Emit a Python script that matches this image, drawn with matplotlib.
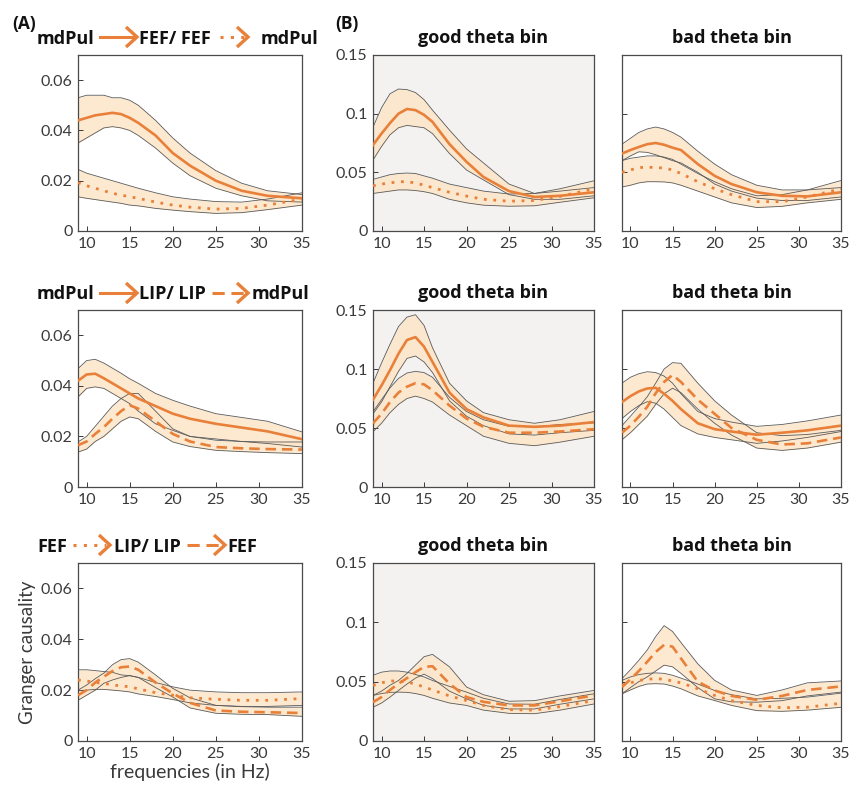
import matplotlib
matplotlib.use("Agg")
import matplotlib.pyplot as plt
from matplotlib.lines import Line2D
from matplotlib.ticker import FuncFormatter

plt.rcParams['font.family'] = ['Lato', 'DejaVu Sans']
BOLDFONT = ['Open Sans', 'DejaVu Sans']

W, H = 860, 791
ORANGE = '#e8803a'
BAND = '#fde6c8'
EDGE = '#5a5a5a'
GRAYBG = '#f3f2f1'
TICKC = '#3a3a3a'

freqs = [9, 10, 11, 12, 13, 14, 15, 16, 18, 20, 22, 25, 28, 31, 35]

# (A) row 1: mdPul -> FEF (solid), FEF -> mdPul (dotted)
a1_sol    = [.044, .045, .046, .0465, .047, .0465, .045, .043, .038, .031, .026, .020, .016, .014, .013]
a1_sol_hi = [.053, .054, .054, .054, .053, .053, .052, .050, .044, .037, .031, .024, .019, .016, .0145]
a1_sol_lo = [.035, .037, .039, .041, .0415, .041, .040, .038, .033, .027, .022, .017, .014, .012, .0115]
a1_dot    = [.0192, .018, .017, .016, .015, .0143, .0136, .013, .0115, .0103, .0095, .0087, .009, .0103, .0127]
a1_dot_hi = [.0245, .023, .022, .021, .020, .019, .018, .017, .0152, .0136, .0127, .0117, .0115, .0127, .0152]
a1_dot_lo = [.0136, .013, .0125, .012, .0115, .011, .0103, .010, .009, .0083, .0077, .007, .0073, .0085, .0103]

# (A) row 2: mdPul -> LIP (solid), LIP -> mdPul (dashed)
a2_sol    = [.042, .0445, .0448, .043, .041, .039, .037, .035, .032, .029, .027, .025, .0235, .022, .0189]
a2_sol_hi = [.0468, .050, .0505, .049, .047, .045, .0428, .041, .037, .0343, .032, .029, .0275, .026, .0218]
a2_sol_lo = [.0356, .039, .0396, .039, .037, .035, .033, .030, .025, .0224, .020, .019, .018, .0172, .0158]
a2_dash    = [.0165, .018, .021, .0237, .027, .030, .0323, .031, .026, .021, .018, .0158, .0153, .015, .0148]
a2_dash_hi = [.0178, .020, .024, .028, .032, .035, .037, .037, .030, .023, .020, .0185, .018, .0178, .0178]
a2_dash_lo = [.0138, .015, .018, .020, .023, .026, .0277, .027, .022, .0178, .016, .0145, .014, .0136, .0132]

# (A) row 3: FEF -> LIP (dotted), LIP -> FEF (dashed)
a3_dot    = [.024, .0236, .023, .0227, .022, .0217, .0213, .0205, .019, .018, .017, .0164, .016, .016, .0167]
a3_dot_hi = [.028, .028, .0277, .0273, .027, .026, .0257, .025, .023, .0213, .020, .0193, .019, .019, .0193]
a3_dot_lo = [.0198, .020, .0203, .0203, .020, .0197, .0193, .0185, .0175, .0163, .015, .014, .0136, .0136, .014]
a3_dash    = [.018, .020, .023, .0253, .0275, .029, .0293, .028, .023, .0187, .015, .012, .0115, .0113, .011]
a3_dash_hi = [.020, .022, .0245, .0267, .030, .032, .0324, .031, .026, .0207, .017, .014, .0135, .0133, .0133]
a3_dash_lo = [.016, .018, .020, .0227, .024, .025, .0257, .025, .021, .0173, .013, .0109, .0105, .0104, .0097]

# (B) row 1, good theta bin
b1g_sol    = [.0733, .083, .092, .100, .104, .103, .099, .093, .074, .059, .046, .034, .029, .030, .033]
b1g_sol_hi = [.0886, .105, .117, .121, .1205, .118, .112, .103, .086, .070, .058, .040, .032, .034, .037]
b1g_sol_lo = [.0605, .072, .082, .088, .090, .089, .088, .083, .066, .052, .0435, .031, .027, .027, .030]
b1g_dot    = [.0385, .040, .041, .042, .042, .041, .039, .037, .033, .0298, .027, .0254, .026, .0295, .036]
b1g_dot_hi = [.044, .046, .048, .049, .0494, .049, .047, .045, .040, .037, .034, .0315, .032, .036, .0428]
b1g_dot_lo = [.032, .033, .034, .035, .035, .0345, .0335, .032, .027, .024, .022, .0211, .0215, .0245, .0283]

# (B) row 1, bad theta bin
b1b_sol    = [.066, .069, .0716, .074, .075, .0735, .071, .069, .057, .047, .040, .033, .030, .0295, .033]
b1b_sol_hi = [.074, .079, .084, .087, .0886, .087, .084, .080, .068, .057, .048, .039, .035, .035, .037]
b1b_sol_lo = [.060, .064, .0675, .067, .065, .0625, .060, .058, .050, .040, .034, .028, .026, .026, .029]
b1b_dot    = [.050, .052, .054, .0545, .054, .0537, .052, .049, .042, .036, .031, .025, .025, .029, .036]
b1b_dot_hi = [.060, .062, .063, .064, .064, .063, .061, .057, .049, .042, .036, .030, .031, .035, .043]
b1b_dot_lo = [.0375, .039, .041, .042, .042, .0418, .041, .039, .034, .029, .024, .020, .021, .024, .027]

# (B) row 2, good theta bin
b2g_sol    = [.074, .086, .099, .113, .1246, .127, .119, .106, .080, .066, .059, .052, .051, .052, .055]
b2g_sol_hi = [.088, .105, .121, .136, .144, .146, .137, .118, .088, .073, .063, .057, .054, .057, .064]
b2g_sol_lo = [.062, .072, .085, .098, .109, .111, .106, .097, .073, .060, .052, .045, .044, .046, .048]
b2g_dash    = [.054, .062, .072, .080, .085, .088, .087, .082, .069, .058, .051, .046, .046, .047, .049]
b2g_dash_hi = [.0638, .074, .084, .092, .0966, .098, .097, .093, .076, .064, .057, .0514, .051, .053, .0543]
b2g_dash_lo = [.0469, .054, .063, .070, .075, .077, .075, .072, .061, .052, .043, .037, .035, .038, .043]

# (B) row 2, bad theta bin
b2b_sol    = [.072, .077, .081, .0835, .084, .079, .073, .066, .054, .049, .047, .0443, .046, .048, .052]
b2b_sol_hi = [.088, .093, .096, .0977, .097, .094, .088, .079, .064, .058, .055, .0514, .053, .056, .061]
b2b_sol_lo = [.058, .064, .069, .0723, .071, .066, .059, .052, .045, .042, .040, .037, .039, .042, .047]
b2b_dash    = [.046, .052, .0596, .068, .0795, .089, .095, .089, .074, .062, .050, .040, .036, .037, .042]
b2b_dash_hi = [.052, .060, .068, .0765, .088, .100, .1054, .1048, .088, .073, .061, .046, .0435, .0445, .048]
b2b_dash_lo = [.040, .046, .053, .060, .070, .079, .0837, .080, .066, .054, .044, .033, .031, .033, .038]

# (B) row 3, good theta bin
b3g_dash    = [.0327, .037, .043, .0483, .053, .058, .0625, .063, .0483, .037, .033, .030, .030, .0335, .0384]
b3g_dash_hi = [.0384, .042, .047, .051, .057, .064, .071, .073, .0625, .0455, .039, .0335, .034, .038, .0426]
b3g_dash_lo = [.0284, .032, .037, .0426, .048, .053, .0563, .0526, .042, .0355, .030, .027, .027, .031, .0355]
b3g_dot    = [.0469, .049, .0506, .0505, .0497, .048, .0455, .043, .038, .0341, .030, .0264, .026, .029, .0341]
b3g_dot_hi = [.0554, .058, .059, .059, .058, .056, .054, .051, .046, .0412, .036, .0312, .031, .035, .0398]
b3g_dot_lo = [.0384, .040, .041, .0412, .041, .040, .0384, .036, .032, .030, .026, .0233, .023, .026, .0312]

# (B) row 3, bad theta bin
b3b_dash    = [.0455, .052, .059, .0668, .075, .081, .0795, .0696, .050, .0426, .038, .0347, .038, .043, .046]
b3b_dash_hi = [.0526, .060, .068, .0767, .088, .0972, .0923, .083, .065, .0511, .043, .0384, .043, .049, .0506]
b3b_dash_lo = [.0398, .045, .050, .054, .059, .0639, .0625, .057, .045, .0355, .033, .0327, .034, .038, .0412]
b3b_dot    = [.0469, .049, .051, .052, .0526, .052, .0506, .049, .044, .0384, .034, .030, .028, .0285, .0318]
b3b_dot_hi = [.0511, .054, .056, .057, .0574, .057, .0554, .053, .048, .0426, .039, .0355, .036, .037, .0403]
b3b_dot_lo = [.0398, .043, .046, .048, .0483, .048, .0463, .044, .038, .0341, .030, .0256, .025, .026, .0284]

xticks = [10, 15, 20, 25, 30, 35]
yticks_a = [0, 0.02, 0.04, 0.06]
yticks_b = [0, 0.05, 0.1, 0.15]

STYLES = {
    'solid': dict(linestyle='-', lw=1.9),
    'dot': dict(linestyle=(0, (1.0, 2.4)), lw=2.0),
    'dash': dict(linestyle=(0, (4.0, 2.2)), lw=1.9),
}


def px_axes(fig, x0, y0, x1, y1):
    return fig.add_axes([x0 / W, 1 - y1 / H, (x1 - x0) / W, (y1 - y0) / H])


def draw_panel(ax, series, ymax, yticks, bg='white', ylabels=True):
    ax.set_facecolor(bg)
    for mean, lo, hi, st in series:
        ax.fill_between(freqs, lo, hi, color=BAND, alpha=0.85, lw=0, zorder=1)
    for mean, lo, hi, st in series:
        ax.plot(freqs, lo, color=EDGE, lw=0.6, zorder=2)
        ax.plot(freqs, hi, color=EDGE, lw=0.6, zorder=2)
    for mean, lo, hi, st in series:
        ax.plot(freqs, mean, color=ORANGE, zorder=3, **STYLES[st])
    ax.set_xlim(9, 35)
    ax.set_ylim(0, ymax)
    ax.set_xticks(xticks)
    ax.set_yticks(yticks)
    ax.yaxis.set_major_formatter(FuncFormatter(lambda v, p: '%g' % v))
    ax.tick_params(direction='in', length=3.5, width=0.7, colors=TICKC,
                   labelsize=11.5, pad=4)
    if not ylabels:
        ax.set_yticklabels([])
    for s in ax.spines.values():
        s.set_color('#4a4a4a')
        s.set_linewidth(0.9)


fig = plt.figure(figsize=(W / 100, H / 100), dpi=100)

rows_px = [(55, 231), (310, 487), (563, 741)]
col_a = (78, 302)
col_g = (373, 594)
col_b = (622, 841)

panels_a = [
    [(a1_sol, a1_sol_lo, a1_sol_hi, 'solid'), (a1_dot, a1_dot_lo, a1_dot_hi, 'dot')],
    [(a2_sol, a2_sol_lo, a2_sol_hi, 'solid'), (a2_dash, a2_dash_lo, a2_dash_hi, 'dash')],
    [(a3_dot, a3_dot_lo, a3_dot_hi, 'dot'), (a3_dash, a3_dash_lo, a3_dash_hi, 'dash')],
]
panels_g = [
    [(b1g_sol, b1g_sol_lo, b1g_sol_hi, 'solid'), (b1g_dot, b1g_dot_lo, b1g_dot_hi, 'dot')],
    [(b2g_sol, b2g_sol_lo, b2g_sol_hi, 'solid'), (b2g_dash, b2g_dash_lo, b2g_dash_hi, 'dash')],
    [(b3g_dot, b3g_dot_lo, b3g_dot_hi, 'dot'), (b3g_dash, b3g_dash_lo, b3g_dash_hi, 'dash')],
]
panels_b = [
    [(b1b_sol, b1b_sol_lo, b1b_sol_hi, 'solid'), (b1b_dot, b1b_dot_lo, b1b_dot_hi, 'dot')],
    [(b2b_sol, b2b_sol_lo, b2b_sol_hi, 'solid'), (b2b_dash, b2b_dash_lo, b2b_dash_hi, 'dash')],
    [(b3b_dot, b3b_dot_lo, b3b_dot_hi, 'dot'), (b3b_dash, b3b_dash_lo, b3b_dash_hi, 'dash')],
]

title_base = [43, 298, 551]
for i, (y0, y1) in enumerate(rows_px):
    ax = px_axes(fig, col_a[0], y0, col_a[1], y1)
    draw_panel(ax, panels_a[i], 0.07, yticks_a)
    if i == 2:
        ax.set_ylabel('Granger causality', fontsize=13.5, color=TICKC, labelpad=3)
        ax.set_xlabel('frequencies (in Hz)', fontsize=14, color=TICKC, labelpad=2)
    ax = px_axes(fig, col_g[0], y0, col_g[1], y1)
    draw_panel(ax, panels_g[i], 0.15, yticks_b, bg=GRAYBG)
    fig.text((col_g[0] + col_g[1]) / 2 / W, 1 - title_base[i] / H, 'good theta bin',
             ha='center', va='baseline', fontsize=13, fontweight='bold',
             family=BOLDFONT, color='#111111')
    ax = px_axes(fig, col_b[0], y0, col_b[1], y1)
    draw_panel(ax, panels_b[i], 0.15, yticks_b, ylabels=False)
    fig.text((col_b[0] + col_b[1]) / 2 / W, 1 - title_base[i] / H, 'bad theta bin',
             ha='center', va='baseline', fontsize=13, fontweight='bold',
             family=BOLDFONT, color='#111111')

fig.text(12 / W, 1 - 29 / H, '(A)', fontsize=12.5, fontweight='bold',
         family=BOLDFONT, color='#111111')
fig.text(335 / W, 1 - 29 / H, '(B)', fontsize=12.5, fontweight='bold',
         family=BOLDFONT, color='#111111')


def fig_line(xs, ys, **kw):
    fig.add_artist(Line2D([x / W for x in xs], [1 - y / H for y in ys],
                          transform=fig.transFigure, color=ORANGE, **kw))


def arrow(x0, x1, yc, st):
    kw = dict(STYLES[st])
    kw['lw'] = 2.2
    fig_line([x0, x1 - 4], [yc, yc], **kw)
    fig_line([x1 - 11, x1, x1 - 11], [yc - 10, yc, yc + 10], lw=2.4,
             solid_joinstyle='miter', solid_capstyle='butt')


def word(x, yb, s):
    fig.text(x / W, 1 - yb / H, s, ha='left', va='baseline', fontsize=13,
             fontweight='bold', family=BOLDFONT, color='#111111')


# row 1 heading
word(37, 44, 'mdPul'); arrow(100, 137, 37, 'solid'); word(139, 44, 'FEF/ FEF')
arrow(220, 248, 37, 'dot'); word(261, 44, 'mdPul')
# row 2 heading
word(37, 299, 'mdPul'); arrow(100, 137, 293, 'solid'); word(139, 299, 'LIP/ LIP')
arrow(212, 248, 293, 'dash'); word(252, 299, 'mdPul')
# row 3 heading
word(37, 552, 'FEF'); arrow(73, 110, 545, 'dot'); word(114, 552, 'LIP/ LIP')
arrow(187, 225, 545, 'dash'); word(227, 552, 'FEF')

fig.savefig('out.png', dpi=100)
